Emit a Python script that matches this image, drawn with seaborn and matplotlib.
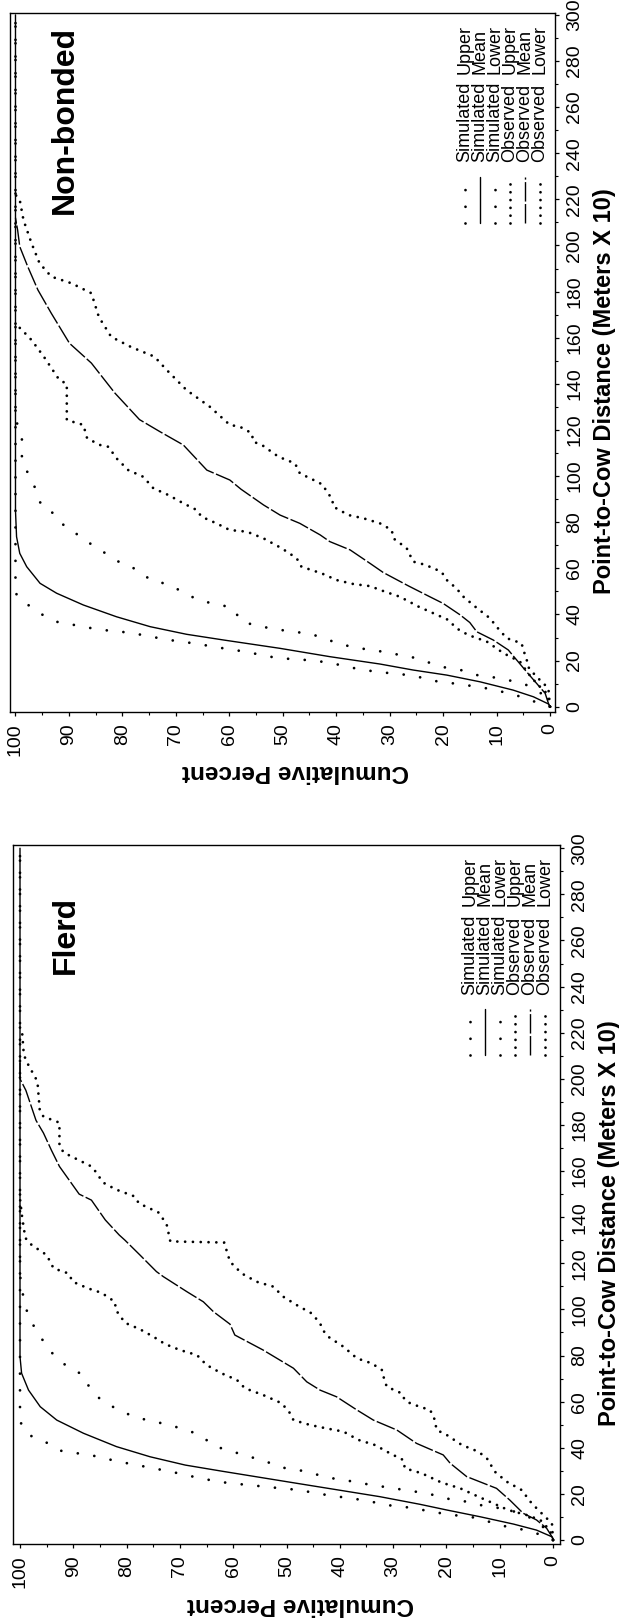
import matplotlib
matplotlib.use("Agg")
import matplotlib.pyplot as plt
import seaborn as sns
from matplotlib.ticker import FixedLocator

# ---------------------------------------------------------------------------
# DATA  (distance = Point-to-Cow Distance in metres x 10, pct = cumulative %)
# ---------------------------------------------------------------------------
# ---- Non-bonded panel ----
nb_sim_upper_d = [0, 2.6, 5.1, 6.9, 8.4, 9.4, 10.4, 11.3, 13.4, 14.2, 14.9, 15.9, 17.3, 19.1,
                  20.0, 20.6, 21.0, 22.4, 23.9, 25.0, 26.3, 27.5, 28.5, 29.7, 31.1, 32.3, 33.0,
                  34.0, 35.4, 36.6, 39.8, 43.7, 48.4, 55, 300]
nb_sim_upper_p = [0, 3.4, 6.5, 9.7, 12.8, 15.9, 19.0, 22.1, 25.3, 28.4, 31.5, 34.8, 37.9, 41.2,
                  44.4, 47.5, 50.8, 53.9, 57.1, 60.3, 63.6, 66.7, 70.0, 73.1, 76.2, 79.5, 82.6,
                  85.7, 88.9, 92.0, 94.9, 97.4, 99.8, 100, 100]

nb_sim_mean_d = [0, 1.2, 4.3, 7.2, 10.8, 13.7, 15.9, 18.5, 21.7, 25.3, 28.9, 31.4, 34.7, 39.0,
                 44.1, 49.2, 53.5, 60.7, 66.5, 73.7, 85, 300]
nb_sim_mean_p = [0, 0.3, 3.1, 6.9, 13.1, 19.3, 25.6, 31.8, 41.2, 50.5, 61.0, 68.0, 74.8, 81.1,
                 87.3, 92.3, 95.4, 97.9, 99.2, 99.8, 100, 100]

nb_sim_lower_d = [0, 3, 6.5, 9.4, 11.3, 12.7, 13.7, 15.9, 17.1, 19.4, 21.7, 22.9, 24.3, 25.3,
                  26.8, 29.2, 31.7, 32.5, 33.6, 35.0, 36.9, 42.9, 44.5, 46.0, 49.6, 53.2, 54.6,
                  59.3, 61.8, 65.8, 69.4, 73.7, 77.4, 83.1, 86.7, 94.3, 100.8, 107.3, 116.4,
                  125, 300]
nb_sim_lower_p = [0, 0.5, 2.0, 4.4, 7.4, 10.5, 13.6, 16.7, 19.8, 23.0, 26.1, 29.2, 32.4, 35.5,
                  38.7, 41.8, 44.9, 48.1, 51.3, 54.6, 57.7, 59.4, 62.4, 65.6, 68.6, 71.5, 74.6,
                  77.0, 80.0, 82.6, 85.3, 87.6, 90.6, 92.3, 95.1, 96.2, 97.6, 98.8, 98.8,
                  100, 100]

nb_obs_upper_d = [0, 5.8, 10.1, 14.5, 19.5, 23.2, 28.2, 31.1, 34.0, 37.6, 40.5, 43.4, 47.7,
                  49.9, 52.3, 53.2, 54.9, 57.8, 60.7, 64.4, 68.7, 73.0, 75.9, 76.6, 79.5, 82.4,
                  85.3, 88.2, 91.8, 94.7, 99.7, 102.6, 107.7, 112.7, 113.5, 116.4, 122.2,
                  124.3, 140, 141.7, 151.8, 159, 163.4, 166]
nb_obs_upper_p = [0, 0.6, 2.5, 4.1, 5.6, 8.7, 11.8, 15.3, 17.5, 19.0, 21.8, 24.6, 28.1,
                  30.9, 33.7, 36.8, 39.9, 42.7, 46.5, 47.4, 50.2, 53.6, 56.7, 59.9, 62.4, 65.2,
                  66.1, 68.6, 71.4, 74.2, 76.1, 78.9, 81.1, 82.6, 84.2, 86.6, 87.3,
                  90.4, 90.4, 91.8, 94.7, 97.0, 98.8, 100]

nb_obs_mean_d = [0, 1.5, 5.8, 10.1, 15.2, 21.0, 24.6, 28.9, 32.5, 36.5, 39.8, 44.8, 47.7, 52.4,
                 58.2, 62.2, 68.0, 71.6, 74.5, 79.5, 83.1, 87.5, 94.3, 98.3, 102.6, 113.5,
                 119.3, 124.5, 136, 149, 157.6, 170.6, 180.7, 190.8, 199.5, 206.7, 212]
nb_obs_mean_p = [0, 0.3, 0.9, 2.5, 4.4, 6.5, 7.8, 10.6, 13.7, 15.0, 16.8, 20.0, 22.5, 26.5,
                 31.2, 33.7, 37.4, 41.2, 43.0, 46.8, 50.5, 53.6, 57.8, 59.9, 64.2, 68.6,
                 73.0, 76.8, 81.4, 85.8, 89.9, 93.3, 95.8, 97.7, 99.2, 99.6, 100]

nb_obs_lower_d = [0, 8, 11.6, 14.5, 17.3, 21.0, 24.6, 27.5, 29.7, 34.7, 38.3, 41.2, 43.4, 47.7,
                  51.3, 54.9, 58.5, 60.7, 62.2, 62.9, 68.7, 73.0, 76.6, 79.5, 81.7, 83.1, 86.7,
                  90.4, 93.2, 96.1, 97.6, 101.2, 105.5, 108.4, 113.5, 114.9, 118.6, 121.4,
                  122.2, 130, 137.3, 146, 151.8, 156, 160.4, 169, 179.3, 183.6, 186.5, 192.3,
                  201, 211, 219.7, 222]
nb_obs_lower_p = [0, 0.3, 1.9, 3.1, 4.1, 4.4, 5.0, 5.3, 8.1, 10.0, 11.2, 12.8, 14.0, 16.2,
                  17.5, 19.3, 20.3, 22.5, 24.3, 25.6, 26.8, 29.3, 29.6, 31.8, 34.9, 37.7, 40.5,
                  40.8, 41.8, 42.4, 43.6, 46.8, 47.7, 50.8, 53.9, 55.5, 55.8, 58.0,
                  59.9, 63.6, 68.0, 71.7, 74.0, 78.4, 82.1, 84.4, 85.8, 89.5, 93.3, 95.5,
                  97.0, 98.5, 99.2, 100]

# ---- Flerd panel ----
fl_sim_upper_d = [0, 2.9, 4.8, 6.1, 8.2, 10.1, 10.8, 11.9, 13.3, 14.5, 15.2, 17.0, 18.1, 19.1,
                  20.2, 21.7, 22.4, 23.1, 23.9, 24.6, 25.7, 27.2, 28.9, 30.4, 31.8, 33.2, 34.7,
                  36.4, 37.6, 38.7, 42.6, 45.5, 51.3, 300]
fl_sim_upper_p = [0, 3.1, 6.2, 9.3, 12.4, 15.5, 18.7, 21.8, 25.1, 28.2, 31.5, 34.7, 38.0, 41.2,
                  44.3, 47.6, 50.9, 54.0, 57.2, 60.6, 63.7, 67.0, 70.2, 73.4, 76.5, 79.7, 82.8,
                  85.9, 89.2, 92.3, 95.3, 98.3, 100, 100]

fl_sim_mean_d = [0, 1.4, 4.3, 6.9, 10.1, 13.0, 15.5, 18.8, 24.6, 29.8, 32.5, 36.1, 40.5, 46.3,
                 52.0, 57.8, 65.0, 72.3, 79.5, 90, 300]
fl_sim_mean_p = [0, 0.2, 3.1, 7.4, 13.7, 19.9, 25.0, 32.5, 48.1, 62.0, 69.0, 75.6, 81.9, 88.1,
                 93.1, 96.2, 98.4, 99.7, 100, 100, 100]

fl_sim_lower_d = [0, 4, 9.1, 12.0, 13.7, 14.7, 16.6, 17.6, 19.5, 20.9, 22.0, 23.1, 24.3, 25.7,
                  26.8, 28.6, 30.4, 31.5, 34.4, 36.4, 38.7, 40.8, 45.5, 48.0, 50.2, 51.7, 53.5,
                  56.7, 60.0, 64.8, 71.6, 74.5, 78.8, 84.1, 90.8, 95.8, 103.6, 111.6, 120, 300]
fl_sim_lower_p = [0, 1.0, 3.7, 6.7, 9.6, 12.8, 16.1, 19.2, 22.3, 25.6, 28.7, 31.8, 35.1, 38.4,
                  41.5, 44.7, 47.8, 51.1, 54.2, 57.4, 60.6, 63.7, 66.1, 69.2, 72.5, 75.6, 78.7,
                  81.7, 84.4, 86.7, 88.1, 90.7, 93.1, 95.1, 96.8, 98.3, 99.2, 99.9, 100, 100]

fl_obs_upper_d = [0, 4.3, 8.7, 10.8, 13.0, 15.9, 19.1, 22.4, 24.9, 28.9, 31.1, 34.7, 37.6,
                  41.2, 43.4, 47.0, 48.4, 49.9, 52.0, 54.9, 59.3, 62.9, 65.8, 69.4, 72.3, 75.9,
                  80.2, 82.4, 85.0, 88.2, 91.4, 94.2, 99.7, 103.3, 107.2, 109.1, 112.0, 115.6,
                  117.8, 123.6, 127.9, 131, 140, 148]
fl_obs_upper_p = [0, 0.6, 2.4, 4.9, 8.4, 11.2, 14.3, 17.4, 20.9, 24.6, 27.8, 28.1, 30.6,
                  33.4, 36.5, 39.3, 42.5, 45.6, 48.7, 49.3, 50.9, 54.4, 57.8, 59.3, 62.2, 65.0,
                  66.8, 70.0, 72.8, 75.0, 77.5, 80.3, 82.0, 82.2, 84.7, 87.2, 90.1, 90.9,
                  93.7, 95.0, 97.8, 99.0, 99.6, 100]

fl_obs_mean_d = [0, 0.7, 5.1, 8.7, 11.6, 17.3, 22.4, 27.5, 33.3, 36.9, 41.9, 47.7, 52.0, 56.4,
                 62.1, 65.0, 68.6, 74.5, 82.4, 88.9, 93.6, 99, 103.3, 107.7, 114.2, 116.4,
                 123.6, 130, 132.3, 138.8, 147.4, 150, 162, 169, 176.5, 182, 195, 200, 208]
fl_obs_mean_p = [0, 0, 1.2, 3.1, 5.6, 8.1, 10.6, 16.2, 19.3, 20.6, 25.6, 29.3, 33.7, 36.8,
                 40.6, 43.7, 46.2, 48.7, 54.4, 59.7, 60.6, 63.7, 65.6, 68.7, 73.1, 74.4,
                 77.5, 80.3, 81.4, 84.0, 86.6, 88.9, 92.6, 94.1, 95.6, 97.0, 98.9, 100, 100]

fl_obs_lower_d = [0, 7.2, 10.8, 15.9, 21.7, 25.3, 29.6, 35.4, 38.3, 39.8, 41.2, 44.1, 45.5,
                  47.7, 50.6, 51.3, 54.2, 56.4, 57.8, 59.3, 60.7, 63.6, 66.5, 70.8, 73.7, 76.6,
                  78.8, 83.8, 88.2, 91.1, 94.0, 98.3, 101.9, 105.5, 109.9, 112.0, 115.6, 120.7,
                  129, 129.5, 137, 142, 146, 149, 152, 155, 160, 162, 168, 171, 181, 183.6,
                  186.5, 198, 200, 208, 211, 220, 222]
fl_obs_lower_p = [0, 0.2, 1.8, 4.0, 5.9, 8.7, 10.9, 12.4, 14.0, 15.6, 17.1, 19.0, 19.9,
                  21.8, 22.1, 22.1, 22.5, 23.1, 25.0, 26.8, 27.8, 28.4, 31.2, 31.8, 32.1, 34.0,
                  36.8, 39.3, 42.2, 43.2, 43.7, 45.3, 48.1, 50.6, 52.5, 55.6, 58.4, 60.6,
                  61.7, 71.8, 72.5, 74.0, 77.7, 78.5, 82.0, 84.4, 85.9, 86.6, 91.8, 92.6, 92.6,
                  95.6, 96.3, 96.7, 97.0, 98.9, 99.3, 99.6, 100]

# ticks / labels / legend text
pct_ticks = list(range(0, 101, 10))
pct_minor = list(range(5, 100, 10))
dist_ticks = list(range(0, 301, 20))
dist_minor = list(range(10, 300, 20))
legend_kind = ["Simulated", "Simulated", "Simulated", "Observed", "Observed", "Observed"]
legend_stat = ["Upper", "Mean", "Lower", "Upper", "Mean", "Lower"]
panel_titles = ["Non-bonded", "Flerd"]
x_label = "Point-to-Cow Distance (Meters X 10)"
y_label = "Cumulative Percent"

# ---------------------------------------------------------------------------
# STYLE
# ---------------------------------------------------------------------------
sns.set_style("ticks")
plt.rcParams.update({
    "axes.edgecolor": "black",
    "axes.linewidth": 1.0,
    "xtick.color": "black",
    "ytick.color": "black",
    "text.color": "black",
})
plt.rcParams["font.family"] = ["Liberation Sans", "DejaVu Sans"]
NARROW = ["Liberation Sans Narrow", "Liberation Sans", "DejaVu Sans"]

sparse = dict(color="black", lw=2.0, linestyle=(0, (0.01, 6.0)), dash_capstyle="round")
dense = dict(color="black", lw=2.0, linestyle=(0, (0.01, 2.8)), dash_capstyle="round")
solid = dict(color="black", lw=1.0, linestyle="-")
dashed = dict(color="black", lw=1.0, linestyle=(0, (14, 1.8)))
styles = [sparse, solid, sparse, dense, dashed, dense]

W, H = 619, 1623
fig = plt.figure(figsize=(W / 100, H / 100), dpi=100)
fig.patch.set_facecolor("white")


def add_axes(left, top, right, bottom):
    return fig.add_axes([left / W, 1 - bottom / H, (right - left) / W, (bottom - top) / H])


ax_nb = add_axes(9.5, 12.7, 555, 711.7)
ax_fl = add_axes(12.7, 845, 560, 1544)

panels = [
    (ax_nb, [(nb_sim_upper_d, nb_sim_upper_p), (nb_sim_mean_d, nb_sim_mean_p),
             (nb_sim_lower_d, nb_sim_lower_p), (nb_obs_upper_d, nb_obs_upper_p),
             (nb_obs_mean_d, nb_obs_mean_p), (nb_obs_lower_d, nb_obs_lower_p)],
     (101.12, -0.94), (-2.17, 300.95), (0.1007, 0.846)),
    (ax_fl, [(fl_sim_upper_d, fl_sim_upper_p), (fl_sim_mean_d, fl_sim_mean_p),
             (fl_sim_lower_d, fl_sim_lower_p), (fl_obs_upper_d, fl_obs_upper_p),
             (fl_obs_mean_d, fl_obs_mean_p), (fl_obs_lower_d, fl_obs_lower_p)],
     (101.37, -1.31), (-1.73, 301.4), (0.097, 0.871)),
]

for (ax, series, xlim, ylim, tpos), title in zip(panels, panel_titles):
    ax.set_facecolor("white")
    # whole chart is turned 90 deg: percent runs right-to-left, distance bottom-to-top
    for (d, p), st in zip(series, styles):
        sns.lineplot(x=p, y=d, ax=ax, sort=False, estimator=None, legend=False, **st)
    ax.set_xlim(*xlim)
    ax.set_ylim(*ylim)
    for s in ax.spines.values():
        s.set_visible(True)
        s.set_color("black")
        s.set_linewidth(1.0)

    ax.xaxis.set_major_locator(FixedLocator(pct_ticks))
    ax.xaxis.set_minor_locator(FixedLocator(pct_minor))
    ax.set_xticklabels([str(v) for v in pct_ticks], rotation=90, family=NARROW, fontsize=14)
    ax.yaxis.tick_right()
    ax.yaxis.set_major_locator(FixedLocator(dist_ticks))
    ax.yaxis.set_minor_locator(FixedLocator(dist_minor))
    ax.set_yticklabels([str(v) for v in dist_ticks], rotation=90, va="center",
                       family=NARROW, fontsize=14)
    ax.tick_params(axis="both", which="major", direction="out", length=3.2, width=0.9, pad=5)
    ax.tick_params(axis="both", which="minor", direction="out", length=2.2, width=0.8)
    ax.tick_params(axis="x", top=False, bottom=True, which="both")
    ax.tick_params(axis="y", left=False, right=True, which="both")
    ax.set_xlabel("")
    ax.set_ylabel("")

    ax.text(1.09, 0.459, x_label, transform=ax.transAxes, rotation=90,
            ha="center", va="center", fontsize=17, fontweight="bold")
    ax.text(0.525, -0.086, y_label, transform=ax.transAxes, rotation=180,
            ha="center", va="center", fontsize=17.5, fontweight="bold")
    ax.text(tpos[0], tpos[1], title, transform=ax.transAxes, rotation=90,
            ha="center", va="center", fontsize=23, fontweight="bold")

    # hand-built rotated legend
    for i, (kind, stat, st) in enumerate(zip(legend_kind, legend_stat, styles)):
        xf = 0.835 + i * 0.0275
        ax.plot([xf, xf], [0.699, 0.765], transform=ax.transAxes, **st)
        ax.text(xf, 0.786, kind, transform=ax.transAxes, rotation=90, rotation_mode="anchor",
                ha="left", va="center", fontsize=13)
        ax.text(xf, 0.913, stat, transform=ax.transAxes, rotation=90, rotation_mode="anchor",
                ha="left", va="center", fontsize=13)

fig.savefig("out.png", dpi=100, facecolor="white")
